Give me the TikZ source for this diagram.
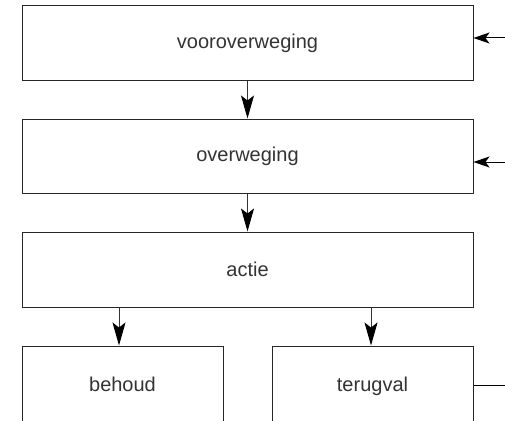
\documentclass[tikz,border=0pt]{standalone}
\usepackage{fontspec}
\setmainfont{Liberation Sans}
\usetikzlibrary{arrows.meta}
\definecolor{txt}{HTML}{333333}
\begin{document}
\begin{tikzpicture}[x=1pt,y=-1pt,
  box/.style={draw=black!85,line width=1pt,rectangle,inner sep=0pt,text=txt,font=\fontsize{20}{24}\selectfont},
  varr/.style={draw=black!80,line width=1pt,-{Stealth[length=23pt,width=13pt,inset=5pt,black]}},
  harr/.style={draw=black,line width=1pt,-{Stealth[length=16pt,width=11pt,inset=4pt,black]}},
  plain/.style={draw=black,line width=1pt}]
\useasboundingbox (0,0) rectangle (505,420);
\clip (0,0) rectangle (505,420);
\node[box,minimum width=451pt,minimum height=74pt] (b1) at (247.5,43) {vooroverweging};
\node[box,minimum width=451pt,minimum height=74pt] (b2) at (247.5,156) {overweging};
\node[box,minimum width=451pt,minimum height=75pt] (b3) at (247.5,269.5) {actie};
\node[box,minimum width=201pt,minimum height=80pt] (b4) at (122.5,386) {\raisebox{3pt}{behoud}};
\node[box,minimum width=201pt,minimum height=80pt] (b5) at (372.5,386) {\raisebox{3pt}{terugval}};
\coordinate (in1) at (505,38);
\coordinate (in2) at (505,162);
\coordinate (out5) at (505,385);
\draw[varr] (b1.south) -- (b2.north);
\draw[varr] (b2.south) -- (b3.north);
\draw[varr] (b3.south -| 119,0) -- (b4.north -| 119,0);
\draw[varr] (b3.south -| 371,0) -- (b5.north -| 371,0);
\draw[harr] (in1) -- (in1 -| b1.east);
\draw[harr] (in2) -- (in2 -| b2.east);
\draw[plain] (out5) -- (out5 -| b5.east);
\end{tikzpicture}
\end{document}
